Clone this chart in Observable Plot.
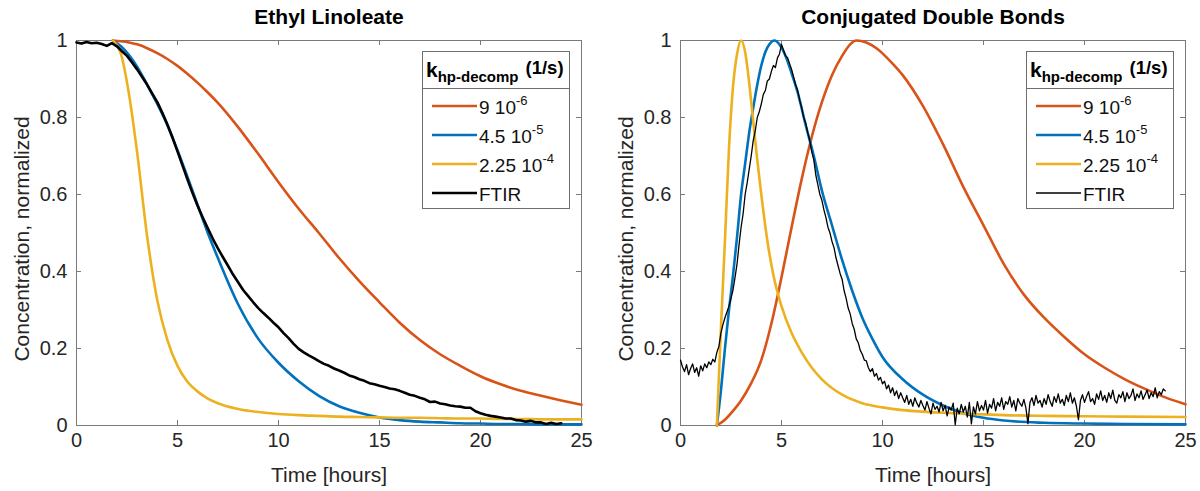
<!DOCTYPE html>
<html><head><meta charset="utf-8">
<script src="https://cdn.jsdelivr.net/npm/d3@7"></script>
<script src="https://cdn.jsdelivr.net/npm/@observablehq/plot@0.6"></script>
<style>
body{margin:0;background:#fff;}
#root{position:relative;width:1200px;height:491px;overflow:hidden;font-family:"Liberation Sans",Arial,Helvetica,sans-serif;background:#fff;}
.panel{position:absolute;top:0;width:600px;height:491px;}
.panel svg{position:absolute;left:0;top:0;}
</style></head><body><div id="root"></div>
<script>
// ---------- tick values ----------
const xTicks = [0, 5, 10, 15, 20, 25];
const yTicks = [0, 0.2, 0.4, 0.6, 0.8, 1];

// ---------- legend ----------
const legendBase = ["9 10", "4.5 10", "2.25 10", "FTIR"];
const legendExp = ["-6", "-5", "-4", ""];
const seriesColors = ["#D95319", "#0072BD", "#EDB120", "#000000"];
const panelTitles = ["Ethyl Linoleate", "Conjugated Double Bonds"];
const xLabel = "Time [hours]";
const yLabel = "Concentration, normalized";

// ---------- Left panel: Ethyl Linoleate (model curves) ----------
const leftModelT = [1.8, 2.2, 2.6, 3, 3.5, 4, 4.5, 5, 5.5, 6, 6.5, 7, 8, 9, 10, 11, 12, 13, 14, 15, 16, 17, 18, 19, 20, 21, 22, 23, 24, 25];
const leftOrange = [1.0, 0.998, 0.995, 0.99, 0.98, 0.967, 0.952, 0.934, 0.913, 0.89, 0.865, 0.838, 0.775, 0.705, 0.632, 0.563, 0.5, 0.435, 0.375, 0.32, 0.267, 0.222, 0.185, 0.155, 0.128, 0.107, 0.09, 0.077, 0.065, 0.054];
const leftBlue = [1.0, 0.985, 0.962, 0.932, 0.885, 0.835, 0.78, 0.715, 0.645, 0.572, 0.5, 0.435, 0.315, 0.225, 0.163, 0.115, 0.077, 0.05, 0.033, 0.021, 0.014, 0.01, 0.008, 0.006, 0.005, 0.004, 0.004, 0.003, 0.003, 0.003];
const leftYellow = [1.0, 0.965, 0.86, 0.71, 0.49, 0.325, 0.222, 0.155, 0.113, 0.088, 0.07, 0.058, 0.043, 0.035, 0.03, 0.027, 0.025, 0.023, 0.022, 0.021, 0.02, 0.02, 0.019, 0.018, 0.018, 0.017, 0.017, 0.016, 0.016, 0.016];

// Left FTIR, sampled every 0.25 h from 0 to 24 h
const leftFtirStep = 0.25;
const leftFtir = [
  0.995, 0.992, 0.996, 0.993,
  0.994, 0.991, 0.986, 0.993,
  0.985, 0.972, 0.960, 0.943,
  0.925, 0.905, 0.885, 0.862,
  0.840, 0.812, 0.782, 0.748,
  0.712, 0.675, 0.638, 0.603,
  0.570, 0.540, 0.512, 0.485,
  0.460, 0.437, 0.415, 0.392,
  0.372, 0.352, 0.336, 0.320,
  0.305, 0.292, 0.280, 0.267,
  0.255, 0.240, 0.227, 0.212,
  0.199, 0.190, 0.182, 0.175,
  0.167, 0.160, 0.155, 0.148,
  0.143, 0.137, 0.130, 0.126,
  0.120, 0.116, 0.110, 0.107,
  0.103, 0.100, 0.096, 0.094,
  0.090, 0.085, 0.080, 0.077,
  0.072, 0.068, 0.061, 0.062,
  0.057, 0.055, 0.052, 0.050,
  0.049, 0.046, 0.046, 0.037,
  0.032, 0.028, 0.025, 0.023,
  0.021, 0.018, 0.018, 0.014,
  0.013, 0.010, 0.012, 0.008,
  0.008, 0.004, 0.007, 0.004,
  0.006
];

// ---------- Right panel: Conjugated Double Bonds ----------
const rightOrangeT = [1.8, 2.2, 2.6, 3.0, 3.5, 4, 4.5, 5, 5.5, 6, 6.5, 7, 7.5, 8, 8.4, 8.7, 9.2, 9.7, 10.5, 11, 12, 13, 14, 15, 16, 17, 18, 19, 20, 21, 22, 23, 24, 25];
const rightOrange = [0, 0.015, 0.038, 0.065, 0.11, 0.17, 0.265, 0.385, 0.515, 0.64, 0.75, 0.84, 0.91, 0.96, 0.99, 1.0, 0.995, 0.98, 0.94, 0.91, 0.83, 0.73, 0.62, 0.52, 0.42, 0.34, 0.28, 0.23, 0.185, 0.15, 0.12, 0.095, 0.073, 0.055];
const rightBlueT = [1.8, 2.0, 2.2, 2.4, 2.6, 2.8, 3.0, 3.2, 3.4, 3.6, 3.8, 4.0, 4.2, 4.4, 4.65, 4.9, 5.2, 5.5, 5.8, 6.2, 6.6, 7, 7.5, 8, 8.5, 9, 9.5, 10, 11, 12, 13, 14, 15, 16, 18, 20, 22, 25];
const rightBlue = [0, 0.09, 0.2, 0.3, 0.39, 0.49, 0.6, 0.68, 0.76, 0.825, 0.885, 0.935, 0.97, 0.99, 1.0, 0.99, 0.96, 0.915, 0.865, 0.78, 0.7, 0.61, 0.52, 0.43, 0.35, 0.28, 0.225, 0.178, 0.12, 0.08, 0.052, 0.032, 0.02, 0.013, 0.007, 0.005, 0.004, 0.003];
const rightYellowT = [1.8, 2.0, 2.2, 2.4, 2.6, 2.8, 3.0, 3.2, 3.4, 3.6, 3.8, 4.0, 4.3, 4.6, 5, 5.5, 6, 6.5, 7, 8, 9, 10, 11, 12, 13, 14, 15, 16, 18, 20, 22, 25];
const rightYellow = [0, 0.25, 0.48, 0.72, 0.88, 0.965, 1.0, 0.97, 0.89, 0.79, 0.69, 0.6, 0.48, 0.39, 0.31, 0.24, 0.19, 0.15, 0.12, 0.08, 0.058, 0.047, 0.04, 0.036, 0.033, 0.031, 0.029, 0.027, 0.025, 0.024, 0.023, 0.022];

// Right FTIR, sampled every 0.1 h from 0 to 24 h
const rightFtirStep = 0.1;
const rightFtir = [
  0.170, 0.152, 0.140, 0.158, 0.132, 0.148, 0.160, 0.138, 0.150, 0.128,
  0.155, 0.142, 0.160, 0.150, 0.165, 0.158, 0.172, 0.165, 0.190, 0.205,
  0.240, 0.262, 0.280, 0.295, 0.310, 0.330, 0.352, 0.385, 0.420, 0.470,
  0.515, 0.550, 0.600, 0.630, 0.665, 0.700, 0.740, 0.765, 0.800, 0.815,
  0.835, 0.860, 0.870, 0.895, 0.900, 0.920, 0.935, 0.930, 0.955, 0.965,
  0.990, 0.975, 0.960, 0.955, 0.940, 0.925, 0.905, 0.885, 0.870, 0.845,
  0.825, 0.800, 0.785, 0.760, 0.740, 0.710, 0.690, 0.650, 0.625, 0.600,
  0.585, 0.560, 0.540, 0.515, 0.500, 0.478, 0.462, 0.435, 0.415, 0.395,
  0.380, 0.350, 0.330, 0.305, 0.290, 0.265, 0.250, 0.225, 0.215, 0.195,
  0.185, 0.170, 0.168, 0.150, 0.140, 0.148, 0.128, 0.135, 0.118, 0.125,
  0.108, 0.115, 0.095, 0.105, 0.085, 0.098, 0.078, 0.090, 0.070, 0.085,
  0.072, 0.060, 0.078, 0.055, 0.068, 0.050, 0.072, 0.058, 0.048, 0.065,
  0.052, 0.040, 0.062, 0.045, 0.030, 0.058, 0.042, 0.050, 0.035, 0.060,
  0.038, 0.052, 0.025, 0.048, 0.040, 0.058, 0.002, 0.045, 0.030, 0.055,
  0.035, 0.050, 0.022, 0.060, 0.004, 0.048, 0.030, 0.062, 0.038, 0.052,
  0.040, 0.065, 0.032, 0.055, 0.045, 0.070, 0.038, 0.060, 0.050, 0.072,
  0.042, 0.062, 0.055, 0.075, 0.048, 0.065, 0.038, 0.070, 0.058, 0.050,
  0.068, 0.045, 0.005, 0.060, 0.072, 0.052, 0.078, 0.058, 0.065, 0.048,
  0.070, 0.055, 0.080, 0.062, 0.050, 0.075, 0.060, 0.082, 0.058, 0.068,
  0.052, 0.078, 0.062, 0.085, 0.058, 0.072, 0.050, 0.015, 0.065, 0.080,
  0.060, 0.075, 0.088, 0.062, 0.070, 0.055, 0.082, 0.068, 0.090, 0.065,
  0.078, 0.060, 0.085, 0.070, 0.092, 0.065, 0.058, 0.080, 0.072, 0.088,
  0.062, 0.085, 0.070, 0.078, 0.095, 0.065, 0.082, 0.072, 0.090, 0.068,
  0.080, 0.092, 0.070, 0.085, 0.075, 0.098, 0.072, 0.088, 0.080, 0.095,
  0.090
];

// ---------- drawing ----------
const FONT = "'Liberation Sans', Arial, Helvetica, sans-serif";
const W = 600, H = 491, MT = 40, MB = 66;
const AXIS = "#262626", FRAME = "#7a7a7a";

function makePanel(cfg) {
  const innerW = W - cfg.ml - cfg.mr, innerH = H - MT - MB;
  const marks = [
    Plot.frame({stroke: FRAME, strokeWidth: 1}),
    Plot.tickX(xTicks, {x: d => d, insetTop: innerH - 5, stroke: FRAME}),
    Plot.tickX(xTicks, {x: d => d, insetBottom: innerH - 5, stroke: FRAME}),
    Plot.tickY(yTicks, {y: d => d, insetRight: innerW - 5, stroke: FRAME}),
    Plot.tickY(yTicks, {y: d => d, insetLeft: innerW - 5, stroke: FRAME}),
    Plot.axisX({ticks: xTicks, tickSize: 0, tickPadding: 7, tickFormat: d => String(d), label: null, fontSize: 20, fill: AXIS}),
    Plot.axisY({ticks: yTicks, tickSize: 0, tickPadding: 9, tickFormat: d => String(d), label: null, fontSize: 20, fill: AXIS})
  ];
  cfg.curves.forEach((c, i) => {
    marks.push(Plot.line(c.y, {x: c.x, y: d => d, stroke: seriesColors[i], strokeWidth: 2.6, curve: "monotone-x"}));
  });
  const ftirX = cfg.ftir.map((_, i) => i * cfg.ftirStep);
  marks.push(Plot.line(cfg.ftir, {x: ftirX, y: d => d, stroke: seriesColors[3], strokeWidth: cfg.ftirWidth, strokeLinejoin: "round"}));
  marks.push(Plot.text([cfg.title], {text: d => d, frameAnchor: "top", dy: -23, lineAnchor: "middle", fontWeight: "bold", fontSize: 21, fill: "#000"}));
  marks.push(Plot.text([xLabel], {text: d => d, frameAnchor: "bottom", dy: 50, lineAnchor: "middle", fontSize: 21, fill: AXIS}));
  marks.push(Plot.text([yLabel], {text: d => d, frameAnchor: "left", rotate: -90, dx: -54, dy: 6, textAnchor: "middle", lineAnchor: "middle", fontSize: 21, fill: AXIS}));
  return Plot.plot({
    width: W, height: H, marginLeft: cfg.ml, marginRight: cfg.mr, marginTop: MT, marginBottom: MB,
    x: {domain: [0, 25]}, y: {domain: [0, 1]},
    style: {fontFamily: FONT, fontSize: "20px", color: AXIS, background: "transparent", overflow: "visible"},
    marks
  });
}

function makeLegend(frameRight, ftirWidth) {
  const boxW = 147, boxTop = 51, boxH = 157, sepY = 88.5;
  const bx = frameRight - 12 - boxW;
  const svg = d3.create("svg").attr("width", W).attr("height", H).style("pointer-events", "none");
  const g = svg.append("g").attr("font-family", FONT);
  g.append("rect").attr("x", bx + 0.5).attr("y", boxTop + 0.5).attr("width", boxW).attr("height", boxH)
    .attr("fill", "#fff").attr("stroke", "#6e6e6e").attr("stroke-width", 1);
  g.append("line").attr("x1", bx).attr("x2", bx + boxW).attr("y1", sepY).attr("y2", sepY)
    .attr("stroke", "#6e6e6e").attr("stroke-width", 1);
  const t = g.append("text").attr("x", bx + 4).attr("y", 77).attr("font-weight", "bold").attr("fill", "#000");
  t.append("tspan").attr("font-size", 21).text("k");
  t.append("tspan").attr("font-size", 15).attr("dy", 5).text("hp-decomp");
  t.append("tspan").attr("font-size", 18.5).attr("dy", -8).attr("dx", 7).text("(1/s)");
  legendBase.forEach((lab, i) => {
    const y = 106 + i * 29;
    g.append("line").attr("x1", bx + 10).attr("x2", bx + 55).attr("y1", y).attr("y2", y)
      .attr("stroke", seriesColors[i]).attr("stroke-width", i === 3 ? ftirWidth : 2.6);
    const tx = g.append("text").attr("x", bx + 57).attr("y", y + 8).attr("font-size", 19).attr("fill", "#111");
    tx.append("tspan").text(lab);
    if (legendExp[i]) tx.append("tspan").attr("font-size", 13).attr("dy", -9).text(legendExp[i]);
  });
  return svg.node();
}

const root = document.getElementById("root");
const panels = [
  {left: 0, ml: 76, mr: 19, title: panelTitles[0],
   curves: [{x: leftModelT, y: leftOrange}, {x: leftModelT, y: leftBlue}, {x: leftModelT, y: leftYellow}],
   ftir: leftFtir, ftirStep: leftFtirStep, ftirWidth: 2.6},
  {left: 600, ml: 80, mr: 15, title: panelTitles[1],
   curves: [{x: rightOrangeT, y: rightOrange}, {x: rightBlueT, y: rightBlue}, {x: rightYellowT, y: rightYellow}],
   ftir: rightFtir, ftirStep: rightFtirStep, ftirWidth: 1.3}
];
panels.forEach(p => {
  const div = document.createElement("div");
  div.className = "panel";
  div.style.left = p.left + "px";
  div.appendChild(makePanel(p));
  div.appendChild(makeLegend(W - p.mr, p.ftirWidth));
  root.appendChild(div);
});
</script></body></html>
